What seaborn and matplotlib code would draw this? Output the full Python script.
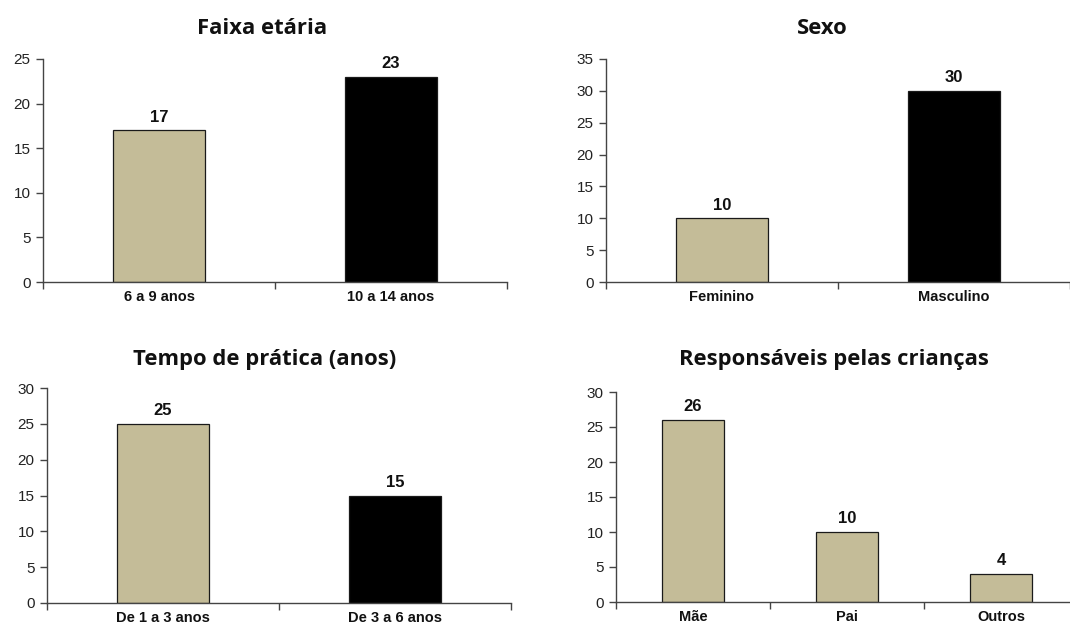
import matplotlib
matplotlib.use("Agg")
import matplotlib.pyplot as plt
import seaborn as sns
import pandas as pd

# Data
faixa_cats = ["6 a 9 anos", "10 a 14 anos"]
faixa_vals = [17, 23]

sexo_cats = ["Feminino", "Masculino"]
sexo_vals = [10, 30]

tempo_cats = ["De 1 a 3 anos", "De 3 a 6 anos"]
tempo_vals = [25, 15]

resp_cats = ["Mãe", "Pai", "Outros"]
resp_vals = [26, 10, 4]

BEIGE = "#C4BC98"
BLACK = "#000000"

sns.set_theme(style="white")
plt.rcParams["font.family"] = ["Liberation Sans", "DejaVu Sans"]

W, H = 1070, 628
fig = plt.figure(figsize=(W / 100, H / 100), dpi=100)
fig.patch.set_facecolor("white")


def px_axes(left, right, top, bottom):
    return fig.add_axes([left / W, 1 - bottom / H, (right - left) / W, (bottom - top) / H])


def panel(ax, cats, vals, colors, ymax, step, title, title_xy):
    df = pd.DataFrame({"cat": cats, "val": vals})
    sns.barplot(data=df, x="cat", y="val", hue="cat", palette=colors,
                order=cats, hue_order=cats, width=0.4, legend=False,
                edgecolor="#1a1a1a", linewidth=0.9, ax=ax, saturation=1)
    n = len(cats)
    ax.set_xlim(-0.5, n - 0.5)
    ax.set_ylim(0, ymax)
    ax.set_yticks(range(0, ymax + 1, step))
    ax.set_xlabel("")
    ax.set_ylabel("")
    for s in ["top", "right"]:
        ax.spines[s].set_visible(False)
    for s in ["left", "bottom"]:
        ax.spines[s].set_color("#444444")
        ax.spines[s].set_linewidth(1.0)
    ax.tick_params(axis="y", which="major", left=True, length=5, width=1,
                   color="#444444", labelsize=11, labelcolor="#222222", pad=4)
    ax.tick_params(axis="x", which="major", bottom=False, length=0, pad=6)
    ax.set_xticks([i - 0.5 for i in range(n + 1)], minor=True)
    ax.tick_params(axis="x", which="minor", bottom=True, length=5, width=1, color="#444444")
    for lbl in ax.get_xticklabels():
        lbl.set_fontweight("bold")
        lbl.set_fontsize(10.5)
        lbl.set_color("#111111")
    for c in ax.containers:
        ax.bar_label(c, fmt="%d", padding=4, fontsize=12, fontweight="bold", color="#111111")
    fig.text(title_xy[0] / W, 1 - title_xy[1] / H, title, ha="center", va="center",
             fontsize=15.8, fontweight="bold", family=["Open Sans", "DejaVu Sans"], color="#111111")


ax1 = px_axes(43, 507, 59, 282)
panel(ax1, faixa_cats, faixa_vals, [BEIGE, BLACK], 25, 5, "Faixa etária", (262, 28))

ax2 = px_axes(606, 1070, 59, 282)
panel(ax2, sexo_cats, sexo_vals, [BEIGE, BLACK], 35, 5, "Sexo", (822, 28))

ax3 = px_axes(47, 511, 388, 603)
panel(ax3, tempo_cats, tempo_vals, [BEIGE, BLACK], 30, 5, "Tempo de prática (anos)", (265, 360))

ax4 = px_axes(616, 1078, 392, 602)
panel(ax4, resp_cats, resp_vals, [BEIGE, BEIGE, BEIGE], 30, 5, "Responsáveis pelas crianças", (834, 360))

fig.savefig("out.png", dpi=100, facecolor="white")
